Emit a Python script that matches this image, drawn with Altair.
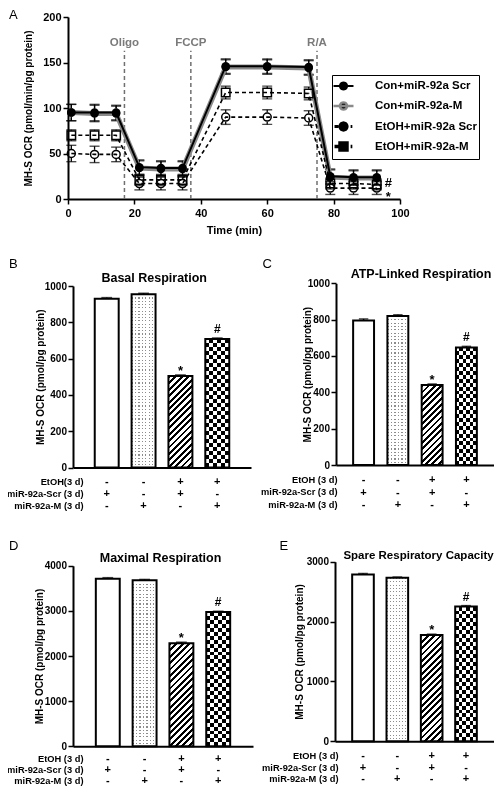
import math
import altair as alt
import pandas as pd

FONT = "Liberation Sans"
W_ALL, H_ALL = 486, 779   # whole drawing (page minus its 8px margins)

# ---------------- Panel A : OCR time course ----------------
time_min = [1, 8, 14.5, 21.5, 28, 34.5, 47.5, 60, 72.5, 79, 86, 93]
series_names = ["Con+miR-92a Scr", "Con+miR-92a-M", "EtOH+miR-92a Scr", "EtOH+miR-92a-M"]
ocr_con_scr = [95, 95, 95, 35, 34, 34, 146, 146, 145, 25, 24, 24]
ocr_con_m = [95, 94, 94, 34, 33, 33, 145, 145, 144, 24, 23, 23]
ocr_etoh_scr = [50, 49, 49, 17, 17, 17, 90, 90, 89, 12, 12, 12]
ocr_etoh_m = [70, 70, 70, 21, 21, 21, 117, 117, 116, 17, 17, 16]
err_con_scr = [9, 9, 8, 8, 8, 8, 8, 8, 8, 8, 8, 8]
err_con_m = [9, 9, 8, 8, 8, 8, 8, 8, 8, 8, 8, 8]
err_etoh_scr = [9, 9, 8, 7, 7, 7, 8, 8, 8, 7, 7, 7]
err_etoh_m = [6, 6, 6, 6, 6, 6, 7, 7, 7, 6, 6, 6]

inject_names = ["Oligo", "FCCP", "R/A"]
inject_time = [17, 37, 75]
inject_label_y = [171, 171, 171]
inject_line_top = [163, 163, 163]

a_sig_text = ["#", "*"]
a_sig_time = [96.5, 96.5]
a_sig_y = [17.5, 2.5]

a_xticks = [0, 20, 40, 60, 80, 100]
a_yticks = [0, 50, 100, 150, 200]

# ---------------- Panels B-E : bar charts ----------------
etoh_sign = ["-", "-", "+", "+"]
scr_sign = ["+", "-", "+", "-"]
m_sign = ["-", "+", "-", "+"]
bar_sig = ["", "", "*", "#"]

basal = [930, 955, 504, 708]
basal_err = [6, 5, 6, 6]
atp_linked = [795, 820, 440, 647]
atp_linked_err = [9, 7, 6, 6]
maximal = [3715, 3680, 2285, 2975]
maximal_err = [22, 18, 22, 18]
spare = [2785, 2730, 1775, 2250]
spare_err = [18, 14, 14, 16]

b_yticks = [0, 200, 400, 600, 800, 1000]
c_yticks = [0, 200, 400, 600, 800, 1000]
d_yticks = [0, 1000, 2000, 3000, 4000]
e_yticks = [0, 1000, 2000, 3000]

rows_b = ["EtOH(3 d)", "miR-92a-Scr (3 d)", "miR-92a-M (3 d)"]
rows_other = ["EtOH (3 d)", "miR-92a-Scr (3 d)", "miR-92a-M (3 d)"]

cat_keys = ["|".join(s) for s in zip(etoh_sign, scr_sign, m_sign)]


def text_axis(orient, title, tx, ty, size, weight, align="center", offset=0):
    """An axis that only carries a free-standing title (panel letters, panel titles)."""
    return alt.Axis(orient=orient, offset=offset, labels=False, ticks=False, domain=False, grid=False,
                    title=title, titleX=tx, titleY=ty, titleAngle=0, titleAlign=align,
                    titleBaseline="middle", titleFontSize=size, titleFontWeight=weight,
                    titleColor="black", titleFont=FONT)


# ======================= PANEL A =======================
A_X0, A_X1, A_YB, A_YT = 60, 392, 191, 9
rows = []
for name, vals, errs in zip(series_names,
                            [ocr_con_scr, ocr_con_m, ocr_etoh_scr, ocr_etoh_m],
                            [err_con_scr, err_con_m, err_etoh_scr, err_etoh_m]):
    for t, v, e in zip(time_min, vals, errs):
        rows.append({"series": name, "time": t, "ocr": v, "lo": v - e, "hi": v + e})
df_a = pd.DataFrame(rows)
marker_r = 4.6 * a_yticks[-1] / (A_YB - A_YT)   # marker radius in data units (styling only)
df_a["in_lo"] = df_a["ocr"] - marker_r
df_a["in_hi"] = df_a["ocr"] + marker_r

df_inj = pd.DataFrame({"name": inject_names, "time": inject_time, "label_y": inject_label_y,
                       "y0": [0, 0, 0], "y1": inject_line_top})
df_sig_a = pd.DataFrame({"txt": a_sig_text, "time": a_sig_time, "y": a_sig_y})

sx_a = alt.Scale(domain=[0, 100], nice=False, range=[A_X0, A_X1])
sy_a = alt.Scale(domain=[0, 200], nice=False, range=[A_YB, A_YT])
ax_a_x = alt.Axis(orient="bottom", offset=A_YB - H_ALL, values=a_xticks, format="d", tickSize=5,
                  tickWidth=1.5, domainWidth=2, labelFontSize=11, labelFontWeight="bold", labelPadding=3.5,
                  labelFlush=False, title="Time (min)", titleFontSize=11, titleFontWeight="bold",
                  titleX=(A_X0 + A_X1) / 2, titleY=31.5, titleBaseline="middle", titleAlign="center",
                  titleAngle=0)
ax_a_y = alt.Axis(orient="left", offset=-A_X0, values=a_yticks, format="d", tickSize=5, tickWidth=1.5,
                  domainWidth=2, labelFontSize=11, labelFontWeight="bold", labelPadding=2, labelFlush=False,
                  title="MH-S OCR (pmol/min/pg protein)", titleFontSize=10, titleFontWeight="bold",
                  titleX=-40, titleY=(A_YB + A_YT) / 2, titleAngle=270, titleBaseline="middle",
                  titleAlign="center")


def xa(f):
    return alt.X(f"{f}:Q", scale=sx_a, axis=ax_a_x)


def ya(f):
    return alt.Y(f"{f}:Q", scale=sy_a, axis=ax_a_y)


base_a = alt.Chart(df_a)


def one(name):
    return base_a.transform_filter(alt.datum.series == name)


inj_rules = alt.Chart(df_inj).mark_rule(color="#707070", strokeDash=[4, 3], strokeWidth=1.5).encode(
    x=xa("time"), y=ya("y0"), y2="y1:Q")
inj_text = alt.Chart(df_inj).mark_text(color="#7a7a7a", font=FONT, fontSize=11.5, fontWeight="bold").encode(
    x=xa("time"), y=ya("label_y"), text="name:N")

err_up = base_a.mark_rule(color="black", strokeWidth=1.3).encode(x=xa("time"), y=ya("in_hi"), y2="hi:Q")
err_dn = base_a.mark_rule(color="black", strokeWidth=1.3).encode(x=xa("time"), y=ya("lo"), y2="in_lo:Q")
cap_hi = base_a.mark_tick(color="black", thickness=1.4, size=10, orient="horizontal").encode(x=xa("time"), y=ya("hi"))
cap_lo = base_a.mark_tick(color="black", thickness=1.4, size=10, orient="horizontal").encode(x=xa("time"), y=ya("lo"))

line_con_m = one(series_names[1]).mark_line(color="#8a8a8a", strokeWidth=5).encode(x=xa("time"), y=ya("ocr"))
line_etoh_scr = one(series_names[2]).mark_line(color="black", strokeWidth=1.6, strokeDash=[4, 3]).encode(
    x=xa("time"), y=ya("ocr"))
line_etoh_m = one(series_names[3]).mark_line(color="black", strokeWidth=1.6, strokeDash=[4, 3]).encode(
    x=xa("time"), y=ya("ocr"))
line_con_scr = one(series_names[0]).mark_line(color="black", strokeWidth=2).encode(x=xa("time"), y=ya("ocr"))

pts_con = base_a.transform_filter(alt.FieldOneOfPredicate(field="series", oneOf=series_names[:2])).mark_point(
    shape="circle", filled=True, color="black", size=72, opacity=1).encode(x=xa("time"), y=ya("ocr"))
pts_etoh_scr = one(series_names[2]).mark_point(shape="circle", color="black", strokeWidth=1.5, size=64,
                                               opacity=1).encode(x=xa("time"), y=ya("ocr"))
pts_etoh_m = one(series_names[3]).mark_point(shape="square", color="black", strokeWidth=1.5, size=72,
                                             opacity=1).encode(x=xa("time"), y=ya("ocr"))

sig_a = alt.Chart(df_sig_a).mark_text(font=FONT, fontSize=13, fontWeight="bold", align="center",
                                      baseline="middle", color="black").encode(
    x=xa("time"), y=ya("y"), text="txt:N")

# legend symbols: solid line + marker for the controls, "dash - open marker - dot" for EtOH
_r = 0.47
_poly = "L".join(f"{_r * math.cos(2 * math.pi * k / 20):.3f},{_r * math.sin(2 * math.pi * k / 20):.3f}"
                 for k in range(20))
circ_full = "M-1.29,0L1.29,0M" + _poly + "Z"
broken = "M-1.16,0L-0.66,0M0.92,0L1.14,0"
inner = "M-0.47,0L0.47,0"
circ_etoh = broken + "M" + _poly + "Z" + inner
_q = 0.45
sq_etoh = broken + f"M-{_q},-{_q}L{_q},-{_q}L{_q},{_q}L-{_q},{_q}Z" + inner
legend_paths = [circ_full, circ_full, circ_etoh, sq_etoh]
leg = alt.Legend(title=None, orient="none", legendX=324, legendY=67, strokeColor="black", padding=2,
                 fillColor="white", labelFont=FONT, labelFontSize=11.5, labelFontWeight="bold",
                 labelColor="black", labelOffset=22, symbolSize=240, rowPadding=-9, labelLimit=300,
                 gridAlign="all")
legend_layer = base_a.transform_filter("false").mark_point(filled=True, fill="black", opacity=1).encode(
    shape=alt.Shape("series:N", scale=alt.Scale(domain=series_names, range=legend_paths), legend=leg),
    fillOpacity=alt.FillOpacity("series:N", scale=alt.Scale(domain=series_names, range=[1, 1, 0, 0]),
                                legend=leg),
    stroke=alt.Stroke("series:N", scale=alt.Scale(domain=series_names,
                                                  range=["black", "#8a8a8a", "black", "black"]), legend=leg),
    strokeWidth=alt.StrokeWidth("series:N", scale=alt.Scale(domain=series_names, range=[1.8, 3.5, 1.6, 1.6]),
                                legend=leg),
)

letter_a = alt.Chart(df_inj).mark_text(text="").encode(
    x=alt.X("time:Q", scale=sx_a, axis=text_axis("top", "A", 0.5, 6.5, 13, "normal", align="left")))

panel_a = alt.layer(
    alt.layer(inj_rules, inj_text, err_up, err_dn, cap_hi, cap_lo,
              line_con_m, line_etoh_scr, line_etoh_m, line_con_scr,
              pts_con, pts_etoh_scr, pts_etoh_m, sig_a, legend_layer),
    letter_a,
).resolve_axis(x="independent")


# ======================= BAR PANELS =======================
def stripes(n, frac, dark, light, x2, y2):
    n = max(1, int(round(n)))
    stops = []
    for k in range(n):
        a = round(k / n, 5)
        b = round((k + frac) / n, 5)
        c = round((k + 1) / n, 5)
        stops += [{"offset": a, "color": dark}, {"offset": b, "color": dark},
                  {"offset": b, "color": light}, {"offset": c, "color": light}]
    return {"gradient": "linear", "x1": 0, "y1": 0, "x2": x2, "y2": y2, "stops": stops}


def bar_panel(letter, letter_xy, title, title_xy, title_size, vals, errs, yticks,
              x0, x1, yb, yt, pi, po, rows_lab, rows_right, first_row, lh, ytitle_dx):
    ymax = yticks[-1]
    W, H = x1 - x0, yb - yt
    step = W / (len(cat_keys) - pi + 2 * po)
    bw = step * (1 - pi)
    hts = [v / ymax * H for v in vals]
    df = pd.DataFrame({"cat": cat_keys, "value": vals,
                       "hi": [v + e for v, e in zip(vals, errs)], "sig": bar_sig})
    sx = alt.Scale(paddingInner=pi, paddingOuter=po, range=[x0, x1])
    sy = alt.Scale(domain=[0, ymax], nice=False, range=[yb, yt])
    x_axis = alt.Axis(orient="bottom", offset=yb - H_ALL, labelExpr="split(datum.label, '|')", labelAngle=0,
                      labelFontSize=11, labelFontWeight="bold", labelLineHeight=lh, labelBaseline="top",
                      labelPadding=first_row - 5.3, ticks=False, domainWidth=2, title=rows_lab,
                      titleAngle=0, titleAlign="right", titleBaseline="top", titleX=rows_right,
                      titleY=first_row - 3.7, titleFontSize=9.3, titleFontWeight="bold", titleLineHeight=lh)
    y_axis = alt.Axis(orient="left", offset=-x0, values=yticks, format="d", tickSize=5, tickWidth=1.5,
                      domainWidth=2, labelFontSize=10, labelFontWeight="bold", labelPadding=1.5,
                      labelFlush=False, title="MH-S OCR (pmol/pg protein)", titleFontSize=10,
                      titleFontWeight="bold", titleX=ytitle_dx, titleY=(yb + yt) / 2, titleAngle=270,
                      titleBaseline="middle", titleAlign="center")
    x = alt.X("cat:N", sort=cat_keys, scale=sx, axis=x_axis)

    def y(f):
        return alt.Y(f"{f}:Q", scale=sy, axis=y_axis)

    base = alt.Chart(df)

    def bar(i):
        return base.transform_filter(alt.datum.cat == cat_keys[i])

    layers = [base.mark_bar(fill="white", strokeWidth=0).encode(x=x, y=y("value"))]
    # bar 2: dotted
    layers.append(bar(1).mark_bar(fill=stripes(hts[1] / 3.3, 0.35, "#8c8c8c", "white", 0, 1),
                                  strokeWidth=0).encode(x=x, y=y("value")))
    layers.append(bar(1).mark_bar(fill=stripes(bw / 3.3, 0.35, "black", "white", 1, 0),
                                  strokeWidth=0, blend="lighten").encode(x=x, y=y("value")))
    # bar 3: diagonal hatching
    w3, h3 = bw, hts[2]
    s = (w3 + h3) / (w3 ** 2 + h3 ** 2)
    layers.append(bar(2).mark_bar(fill=stripes((w3 + h3) / 6.5, 0.45, "black", "white", s * w3, s * h3),
                                  strokeWidth=0).encode(x=x, y=y("value")))
    # bar 4: checkerboard
    layers.append(bar(3).mark_bar(fill=stripes(hts[3] / 8, 0.5, "black", "white", 0, 1),
                                  strokeWidth=0).encode(x=x, y=y("value")))
    layers.append(bar(3).mark_bar(fill=stripes(bw / 8, 0.5, "white", "black", 1, 0),
                                  strokeWidth=0, blend="difference").encode(x=x, y=y("value")))
    # outlines
    layers.append(base.mark_bar(fill="white", fillOpacity=0, stroke="black", strokeWidth=2).encode(x=x, y=y("value")))
    # error bars
    layers.append(base.mark_rule(color="black", strokeWidth=1.5).encode(x=x, y=y("value"), y2="hi:Q"))
    layers.append(base.mark_tick(color="black", thickness=1.5, size=bw * 0.45, orient="horizontal").encode(
        x=x, y=y("hi")))
    # significance marks
    layers.append(base.transform_filter(alt.datum.sig == "*").mark_text(
        font=FONT, fontSize=13, fontWeight="bold", color="black", baseline="middle", dy=-4).encode(
        x=x, y=y("hi"), text="sig:N"))
    layers.append(base.transform_filter(alt.datum.sig == "#").mark_text(
        font=FONT, fontSize=12, fontWeight="bold", color="black", baseline="middle", dy=-9).encode(
        x=x, y=y("hi"), text="sig:N"))

    title_layer = base.mark_text(text="").encode(
        x=alt.X("cat:N", sort=cat_keys, scale=sx,
                axis=text_axis("top", title, title_xy[0], title_xy[1], title_size, "bold")))
    letter_layer = base.mark_text(text="").encode(
        y=alt.Y("value:Q", scale=sy,
                axis=text_axis("right", letter, letter_xy[0], letter_xy[1], 13, "normal",
                               align="left", offset=-W_ALL)))

    return alt.layer(alt.layer(*layers), title_layer, letter_layer).resolve_axis(
        x="independent", y="independent")


panel_b = bar_panel("B", (0.5, 255), "Basal  Respiration", (145.7, 269.5), 12.5, basal, basal_err, b_yticks,
                    65, 243, 459.5, 278, 0.35, 0.59, rows_b, 75, 13.2, 12.2, -33)
panel_c = bar_panel("C", (254, 255), "ATP-Linked  Respiration", (412.5, 265.5), 12.5, atp_linked, atp_linked_err,
                    c_yticks, 328, 486, 457, 275.3, 0.39, 0.5, rows_other, 329, 14, 12.5, -29)
panel_d = bar_panel("D", (0.5, 537), "Maximal Respiration", (152, 549.5), 12.5, maximal, maximal_err, d_yticks,
                    65, 245, 738.3, 557.8, 0.35, 0.62, rows_other, 75, 11.5, 11, -34)
panel_e = bar_panel("E", (271, 537), "Spare Respiratory Capacity", (410, 547), 11.5, spare, spare_err,
                    e_yticks, 327, 486, 733.2, 553.7, 0.37, 0.5, rows_other, 330, 14, 11.5, -36)

chart = alt.layer(panel_a, panel_b, panel_c, panel_d, panel_e).resolve_scale(
    x="independent", y="independent"
).properties(
    width=W_ALL, height=H_ALL, padding=0, autosize=alt.AutoSizeParams(type="none")
).configure_view(strokeWidth=0).configure_axis(
    grid=False, labelFont=FONT, titleFont=FONT, labelColor="black", titleColor="black",
    domainColor="black", tickColor="black", labelFlush=False
).configure_title(font=FONT, color="black")

chart.save("out.html", embed_options={"renderer": "svg", "actions": False})
